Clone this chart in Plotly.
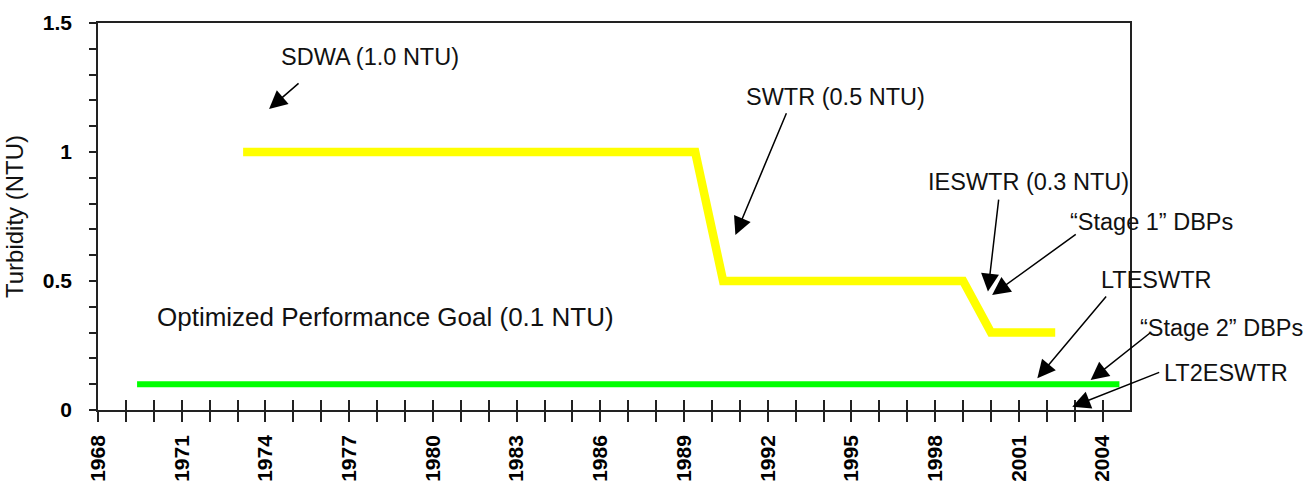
import plotly.graph_objects as go

# ---- data ----
rule_years = [1973.2, 1989.4, 1990.4, 1999.0, 2000.0, 2002.3]
rule_ntu = [1.0, 1.0, 0.5, 0.5, 0.3, 0.3]

goal_years = [1969.4, 2004.6]
goal_ntu = [0.1, 0.1]

x_tick_years = list(range(1968, 2005, 3))
y_tick_vals = [0, 0.5, 1, 1.5]
y_tick_text = ["0", "0.5", "1", "1.5"]

# annotation labels
labels = ["SDWA (1.0 NTU)", "SWTR (0.5 NTU)", "IESWTR (0.3 NTU)",
          "\u201cStage 1\u201d DBPs", "LTESWTR", "\u201cStage 2\u201d DBPs", "LT2ESWTR"]
# label centres (fraction of plot area)
label_px = [0.2636, 0.7151, 0.9021, 1.0213, 1.0252, 1.0882, 1.0930]
label_py = [0.9129, 0.8096, 0.5891, 0.4858, 0.3359, 0.2119, 0.0956]
# arrow heads / tails (data coordinates)
head_x = [1974.13, 1990.84, 1999.89, 2000.04, 2001.66, 2003.57, 2002.91]
head_y = [1.167, 0.678, 0.459, 0.446, 0.123, 0.116, 0.013]
tail_x = [1975.24, 1992.69, 2000.28, 2003.09, 2004.17, 2005.75, 2006.08]
tail_y = [1.271, 1.156, 0.821, 0.685, 0.446, 0.303, 0.148]

goal_label = "Optimized Performance Goal (0.1 NTU)"
goal_label_px = 0.0552
goal_label_py = 0.241

FONT = "Liberation Sans, Arial, sans-serif"
AX = "#222"

fig = go.Figure()
fig.add_trace(go.Scatter(x=rule_years, y=rule_ntu, mode="lines",
                         line=dict(color="#FFFF00", width=8.5),
                         showlegend=False, hoverinfo="skip"))
fig.add_trace(go.Scatter(x=goal_years, y=goal_ntu, mode="lines",
                         line=dict(color="#00FF00", width=6),
                         showlegend=False, hoverinfo="skip"))
# invisible trace for the overlaid (inside) tick axis
fig.add_trace(go.Scatter(x=[1968], y=[0], xaxis="x2", mode="markers",
                         marker=dict(opacity=0), showlegend=False, hoverinfo="skip"))

xr = [1968, 2004.98]
fig.update_layout(
    width=1309, height=487,
    margin=dict(l=98, r=179, t=23, b=77, autoexpand=False),
    paper_bgcolor="white", plot_bgcolor="white",
    font=dict(family=FONT, color="black"),
    xaxis=dict(range=xr, tickmode="array", tickvals=x_tick_years,
               ticktext=[str(v) for v in x_tick_years],
               tickangle=-90, ticks="outside", ticklen=10, tickwidth=1.5,
               tickcolor=AX, automargin=False,
               minor=dict(dtick=1, tick0=1968, ticks="outside", ticklen=10,
                          tickwidth=1.5, tickcolor=AX),
               tickfont=dict(family=FONT, size=21, weight="bold", color="black"),
               ticklabelstandoff=5,
               showline=True, linecolor=AX, linewidth=1.5, mirror=True,
               showgrid=False, zeroline=False),
    xaxis2=dict(range=xr, overlaying="x", anchor="y", side="bottom",
                tickmode="linear", tick0=1968, dtick=1, automargin=False,
                ticks="inside", ticklen=10, tickwidth=1.5, tickcolor=AX,
                showticklabels=False, showline=False, showgrid=False,
                zeroline=False),
    yaxis=dict(range=[0, 1.5], tickmode="array", tickvals=y_tick_vals,
               ticktext=y_tick_text, ticks="outside", ticklen=7, tickwidth=1.5,
               tickcolor=AX, automargin=False,
               minor=dict(dtick=0.1, tick0=0, ticks="outside", ticklen=7,
                          tickwidth=1.5, tickcolor=AX),
               tickfont=dict(family=FONT, size=21, weight="bold", color="black"),
               ticklabelstandoff=13,
               title=dict(text="Turbidity (NTU)", standoff=12,
                          font=dict(family=FONT, size=24, color="#111")),
               showline=True, linecolor=AX, linewidth=1.5, mirror=True,
               showgrid=False, zeroline=False),
)

annotations = []
for i, t in enumerate(labels):
    annotations.append(dict(x=label_px[i], y=label_py[i], xref="paper", yref="paper",
                            text=t, showarrow=False,
                            font=dict(family=FONT, size=23.5, color="#111"),
                            xanchor="center", yanchor="middle"))
    annotations.append(dict(x=head_x[i], y=head_y[i], xref="x", yref="y",
                            ax=tail_x[i], ay=tail_y[i], axref="x", ayref="y",
                            text="", showarrow=True, arrowhead=2,
                            arrowsize=2.4, arrowwidth=1.5, arrowcolor="black",
                            standoff=0, startstandoff=0))
annotations.append(dict(x=goal_label_px, y=goal_label_py, xref="paper", yref="paper",
                        text=goal_label, showarrow=False,
                        font=dict(family=FONT, size=26, color="#111"),
                        xanchor="left", yanchor="middle"))
fig.update_layout(annotations=annotations)

fig.write_html(
    "out.html",
    config={"displayModeBar": False},
    post_script="document.documentElement.style.margin='0';"
                "document.body.style.margin='0';"
                "document.body.style.overflow='hidden';",
)
